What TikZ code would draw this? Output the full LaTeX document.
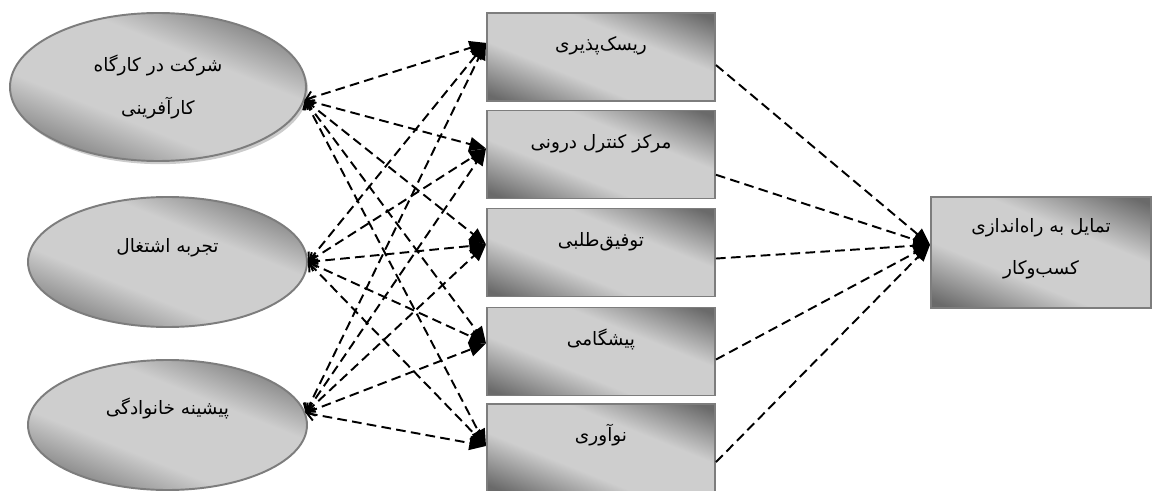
\documentclass[tikz,border=0pt]{standalone}
\usepackage{fontspec}
\usepackage{tikz}
\usetikzlibrary{arrows.meta,shadows,shapes.geometric}
\TeXXeTstate=1
\newfontfamily\farsi[Script=Arabic]{DejaVu Sans}
\definecolor{shdark}{RGB}{106,106,106}
\definecolor{shlight}{RGB}{206,206,206}
\definecolor{rimgray}{RGB}{125,125,125}
\pgfdeclarehorizontalshading{sheen}{100bp}{color(0bp)=(shdark); color(20bp)=(shdark);
    color(39bp)=(shlight); color(61bp)=(shlight); color(80bp)=(shdark); color(100bp)=(shdark)}

\begin{document}
\begin{tikzpicture}[
    shaded/.style={draw=rimgray,line width=1.1pt,shading=sheen,shading angle=68,
        font=\farsi\fontsize{10.5}{24}\selectfont,align=center},
    cause/.style={shaded,ellipse,inner sep=0pt},
    trait/.style={shaded,rectangle,minimum width=4.56cm,minimum height=1.76cm,inner sep=0pt,
        text height=0.3cm,text depth=0.55cm},
    link/.style={line width=1.1pt,dash pattern=on 5.5pt off 3pt,
        {Straight Barb[length=4pt,width=7pt]}-{Triangle[length=9.5pt,width=8pt]}},
    flow/.style={line width=1.1pt,dash pattern=on 5.5pt off 3pt,-{Triangle[length=9.5pt,width=8pt]}}
]
\useasboundingbox (0,0) rectangle (23.04,-9.82);

% Background variables (ellipses)
\node[cause,minimum width=5.92cm,minimum height=2.96cm,
    drop shadow={shadow xshift=1.2pt,shadow yshift=-1.8pt,fill=black!20,opacity=1}]
    (e1) at (3.16,-1.74) {\beginR شرکت در کارگاه\endR\\\beginR کارآفرینی\endR};
\node[cause,minimum width=5.58cm,minimum height=2.6cm,text depth=0.7cm,text height=0.3cm]
    (e2) at (3.35,-5.24) {\beginR تجربه اشتغال\endR};
\node[cause,minimum width=5.58cm,minimum height=2.6cm,text depth=0.72cm,text height=0.3cm]
    (e3) at (3.35,-8.50) {\beginR پیشینه خانوادگی\endR};

% Entrepreneurial traits (boxes)
\node[trait] (b1) at (12.02,-1.14) {\beginR ریسک‌پذیری\endR};
\node[trait] (b2) at (12.02,-3.09) {\beginR مرکز کنترل درونی\endR};
\node[trait] (b3) at (12.02,-5.05) {\beginR توفیق‌طلبی\endR};
\node[trait] (b4) at (12.02,-7.03) {\beginR پیشگامی\endR};
\node[trait] (b5) at (12.02,-8.96) {\beginR نوآوری\endR};

% Outcome
\node[shaded,rectangle,minimum width=4.4cm,minimum height=2.22cm,inner sep=0pt,
    text depth=0.25cm]
    (t) at (20.82,-5.05) {\beginR تمایل به راه‌اندازی\endR\\\beginR کسب‌وکار\endR};

% Links: every background variable to every trait
\foreach \e/\ea in {e1/-5, e2/0, e3/5} {
    \foreach \b/\ba in {b1/173, b2/177, b3/176, b4/176, b5/179} {
        \draw[link] (\e.\ea) -- (\b.\ba);
    }
}

% Traits to intention
\foreach \b/\ba in {b1/-4, b2/-10, b3/-3, b4/-4, b5/-7} {
    \draw[flow] (\b.\ba) -- (t.176);
}

\end{tikzpicture}
\end{document}
